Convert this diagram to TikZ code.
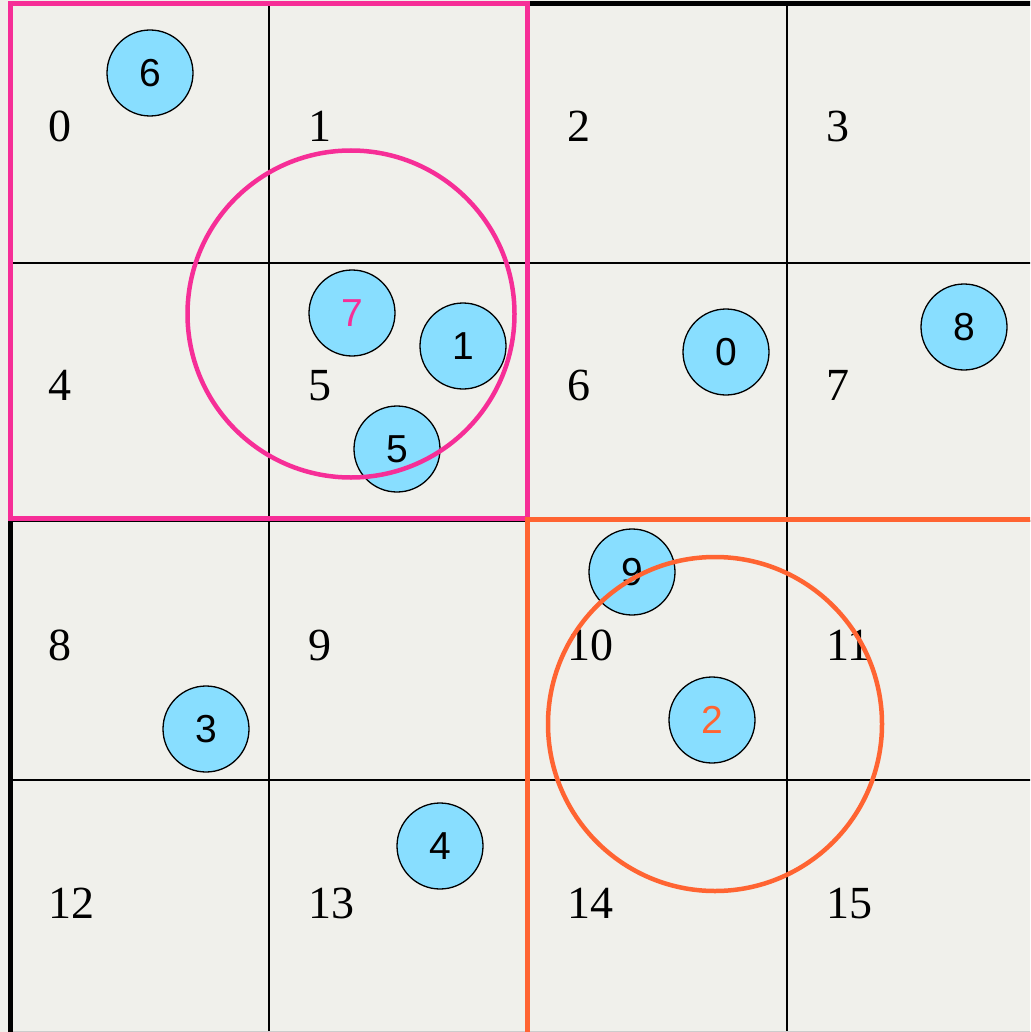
\documentclass[tikz,border=0pt]{standalone}
\usepackage{fontspec}
\setmainfont{Liberation Serif}
\setsansfont{Liberation Sans}
\definecolor{bgc}{RGB}{240,240,235}
\definecolor{pinkc}{RGB}{246,46,151}
\definecolor{orangec}{RGB}{255,100,50}
\definecolor{dotc}{RGB}{136,222,255}
\tikzset{
  cellnum/.style={anchor=base west, inner sep=0pt, font=\fontsize{46}{50}\selectfont},
  dot/.style={circle, draw=black, line width=1.3pt, fill=dotc, minimum size=86pt, inner sep=0pt, font=\sffamily\fontsize{39}{41}\selectfont},
  gridline/.style={line width=1.5pt, black},
  border/.style={line width=5pt, black},
  zone/.style={circle, line width=4.5pt, minimum size=#1, inner sep=0pt},
}
\begin{document}
\begin{tikzpicture}[x=1pt,y=-1pt]
\useasboundingbox (0,0) rectangle (1030,1032);
\fill[bgc] (0,0) rectangle (1030,1032);
\begin{scope}
\clip (0,0) rectangle (1030,1032);
% thin grid
\foreach \gx in {269,527,787} \draw[gridline] (\gx,4) -- (\gx,1040);
\foreach \gy in {263,521,780} \draw[gridline] (10,\gy) -- (1040,\gy);
\draw[line width=1pt, black!20] (10,1031) -- (1040,1031);
% outer border
\draw[border] (1040,4) -- (10,4) -- (10,1040);
% quadrant squares
\draw[pinkc, line width=5pt] (10,3.5) rectangle (527,518.5);
\draw[orangec, line width=5pt] (1045,519) -- (527,519) -- (527,1045);
\end{scope}
% cell labels
\node[cellnum] (c0) at (48,142) {0};
\node[cellnum] (c1) at (308,142) {1};
\node[cellnum] (c2) at (567,142) {2};
\node[cellnum] (c3) at (826,142) {3};
\node[cellnum] (c4) at (48,400) {4};
\node[cellnum] (c5) at (308,400) {5};
\node[cellnum] (c6) at (567,400) {6};
\node[cellnum] (c7) at (826,400) {7};
\node[cellnum] (c8) at (48,660) {8};
\node[cellnum] (c9) at (308,660) {9};
\node[cellnum] (c10) at (567,660) {10};
\node[cellnum] (c11) at (826,660) {11};
\node[cellnum] (c12) at (48,918) {12};
\node[cellnum] (c13) at (308,918) {13};
\node[cellnum] (c14) at (567,918) {14};
\node[cellnum] (c15) at (826,918) {15};
% points
\node[dot] (p6) at (150,73) {6};
\node[dot, text=pinkc] (p7) at (352,313) {7};
\node[dot] (p1) at (463,346) {1};
\node[dot] (p5) at (397,449) {5};
\node[dot] (p0) at (726,352) {0};
\node[dot] (p8) at (964,327) {8};
\node[dot] (p9) at (632,572) {9};
\node[dot] (p3) at (206,729) {3};
\node[dot, text=orangec] (p2) at (712,720) {2};
\node[dot] (p4) at (440,846) {4};
% query ranges
\node[zone=327pt, draw=pinkc] (zpink) at (351,314) {};
\node[zone=334pt, draw=orangec] (zorange) at (715,724) {};
\end{tikzpicture}
\end{document}
